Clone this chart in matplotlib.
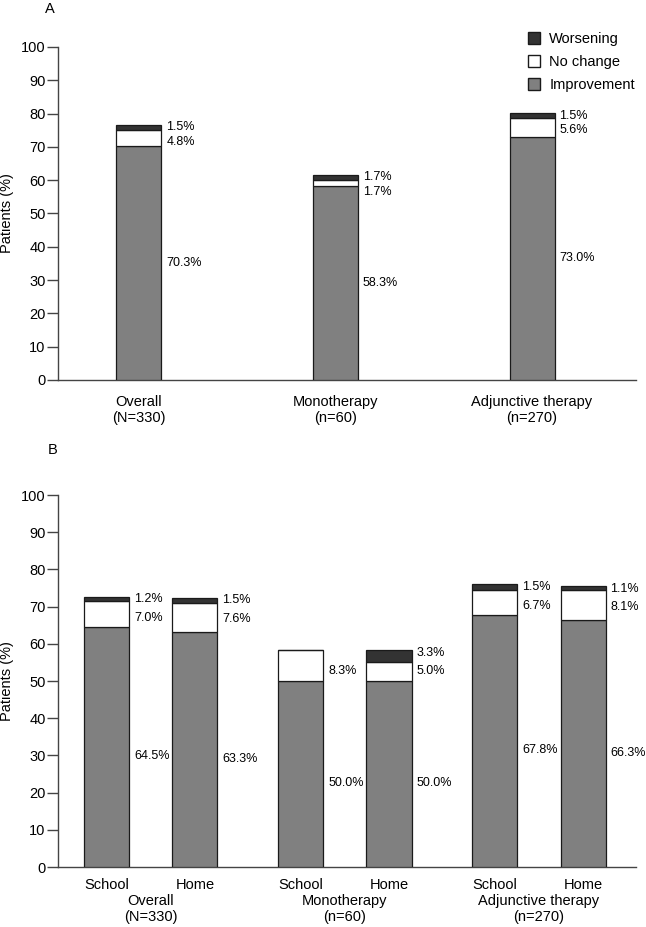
import numpy as np
import matplotlib
matplotlib.use("Agg")
import matplotlib.pyplot as plt
from matplotlib.patches import Patch

plt.rcParams['font.family'] = ['Liberation Sans', 'DejaVu Sans']

# 数据 A
groups_a = ["Overall\n(N=330)", "Monotherapy\n(n=60)", "Adjunctive therapy\n(n=270)"]
improve_a = np.array([70.3, 58.3, 73.0])
nochange_a = np.array([4.8, 1.7, 5.6])
worse_a = np.array([1.5, 1.7, 1.5])

# 数据 B
groups_b = ["Overall\n(N=330)", "Monotherapy\n(n=60)", "Adjunctive therapy\n(n=270)"]
settings_b = ["School", "Home"]
improve_b = np.array([64.5, 63.3, 50.0, 50.0, 67.8, 66.3])
nochange_b = np.array([7.0, 7.6, 8.3, 5.0, 6.7, 8.1])
worse_b = np.array([1.2, 1.5, 0.0, 3.3, 1.5, 1.1])

c_imp = '#808080'
c_no = '#ffffff'
c_worse = '#333333'
edge = '#1a1a1a'

fig = plt.figure(figsize=(6.46, 9.27), dpi=100)
ax_a = fig.add_axes([0.0898, 0.5901, 0.8947, 0.3592])
ax_b = fig.add_axes([0.0898, 0.0647, 0.8947, 0.4013])


def stack(ax, x, w, imp, no, wo):
    ax.bar(x, imp, w, color=c_imp, edgecolor=edge, linewidth=0.9, zorder=3)
    ax.bar(x, no, w, bottom=imp, color=c_no, edgecolor=edge, linewidth=0.9, zorder=3)
    ax.bar(x, wo, w, bottom=imp + no, color=c_worse, edgecolor=edge, linewidth=0.9, zorder=3)


def labels(ax, x, w, imp, no, wo, gap, imp_shift):
    for xi, i, n, wv in zip(x, imp, no, wo):
        top = i + n + wv
        xt = xi + w / 2 + 0.025
        y1 = top - 0.7
        if wv > 0:
            ax.text(xt, y1, f"{wv:.1f}%", fontsize=9, va='center', ha='left')
        ax.text(xt, y1 - gap, f"{n:.1f}%", fontsize=9, va='center', ha='left')
        ax.text(xt, i / 2 - imp_shift, f"{i:.1f}%", fontsize=9, va='center', ha='left')


def style(ax):
    for s in ['top', 'right']:
        ax.spines[s].set_visible(False)
    for s in ['left', 'bottom']:
        ax.spines[s].set_color('#444444')
        ax.spines[s].set_linewidth(1.0)
    ax.set_ylim(0, 100)
    ax.set_yticks(np.arange(0, 101, 10))
    ax.tick_params(axis='y', length=8, width=1.0, color='#444444', pad=1, labelsize=10.5)
    ax.tick_params(axis='x', length=0, labelsize=10.5)
    ax.set_ylabel("Patients (%)", fontsize=10.5)
    ax.yaxis.set_label_coords(-0.076, 0.5)


# 图 A
xa = np.arange(len(groups_a))
wa = 0.229
stack(ax_a, xa, wa, improve_a, nochange_a, worse_a)
labels(ax_a, xa, wa, improve_a, nochange_a, worse_a, 4.4, 0)
ax_a.set_xlim(-0.412, 2.529)
ax_a.set_xticks(xa)
ax_a.set_xticklabels(groups_a)
style(ax_a)
ax_a.tick_params(axis='x', pad=11)

handles = [Patch(facecolor=c_worse, edgecolor=edge, label='Worsening'),
           Patch(facecolor=c_no, edgecolor=edge, label='No change'),
           Patch(facecolor=c_imp, edgecolor=edge, label='Improvement')]
ax_a.legend(handles=handles, loc='upper right', bbox_to_anchor=(0.998, 1.044),
            frameon=False, fontsize=10.5, handlelength=0.85, handleheight=0.85,
            handletextpad=0.6, labelspacing=0.6, borderpad=0, borderaxespad=0)

# 图 B
xg = np.arange(len(groups_b))
off = 0.227
wb = 0.232
xb = np.array([g + s for g in xg for s in (-off, off)])
stack(ax_b, xb, wb, improve_b, nochange_b, worse_b)
labels(ax_b, xb, wb, improve_b, nochange_b, worse_b, 5.0, 2.5)
ax_b.set_xlim(-0.479, 2.5)
ax_b.set_xticks(xb)
ax_b.set_xticklabels(settings_b * len(groups_b))
style(ax_b)
ax_b.tick_params(axis='x', pad=8)
for g, name in zip(xg, groups_b):
    ax_b.text(g, -0.073, name, transform=ax_b.get_xaxis_transform(), ha='center',
              va='top', fontsize=10.5, linespacing=1.2)

fig.text(50 / 646, 1 - 9 / 927, "A", fontsize=10.5, ha='center', va='center')
fig.text(53 / 646, 1 - 450 / 927, "B", fontsize=10.5, ha='center', va='center')

fig.savefig("out.png", dpi=100)
